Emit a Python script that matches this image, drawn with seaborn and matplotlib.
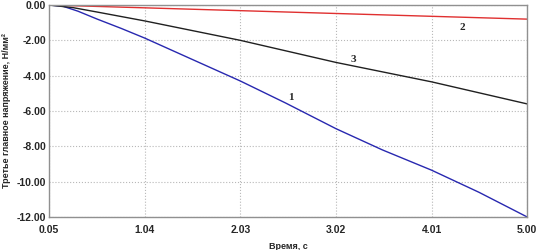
import numpy as np
import pandas as pd
import matplotlib
matplotlib.use("Agg")
import matplotlib.pyplot as plt
from matplotlib.ticker import FixedLocator
import seaborn as sns

# values
time_1 = [0.05, 0.2, 0.35, 0.55, 0.8, 1.04, 1.5, 2.03, 2.5, 3.02, 3.5, 4.01, 4.5, 5.0]
stress_1 = [0.0, -0.08, -0.35, -0.8, -1.33, -1.87, -3.0, -4.3, -5.55, -7.0, -8.2, -9.35, -10.6, -12.0]

time_2 = [0.05, 1.04, 2.03, 3.02, 4.01, 5.0]
stress_2 = [0.0, -0.16, -0.32, -0.48, -0.64, -0.8]

time_3 = [0.05, 0.3, 0.55, 1.04, 2.03, 3.02, 4.01, 5.0]
stress_3 = [0.0, -0.15, -0.4, -0.9, -2.0, -3.25, -4.35, -5.6]

x_ticks = [0.05, 1.04, 2.03, 3.02, 4.01, 5.00]
y_ticks = [0.0, -2.0, -4.0, -6.0, -8.0, -10.0, -12.0]

df = pd.concat([
    pd.DataFrame({"t": time_1, "s": stress_1, "curve": "1"}),
    pd.DataFrame({"t": time_2, "s": stress_2, "curve": "2"}),
    pd.DataFrame({"t": time_3, "s": stress_3, "curve": "3"}),
])

sns.set_style("white")
plt.rcParams['font.family'] = ['Liberation Sans', 'DejaVu Sans']
narrow = ['Liberation Sans Narrow', 'Liberation Sans', 'DejaVu Sans']

fig = plt.figure(figsize=(5.38, 2.5), dpi=100)
ax = fig.add_axes([0.091, 0.132, 0.889, 0.848])

sns.lineplot(data=df, x="t", y="s", hue="curve", palette={"1": "#2828b0", "2": "#e03030", "3": "#202020"},
             linewidth=1.0, legend=False, ax=ax, sort=False)

ax.set_xlim(0.05, 5.0)
ax.set_ylim(-12.0, 0.0)
ax.set_xticks(x_ticks)
ax.set_xticklabels([f"{v:.2f}" for v in x_ticks], fontsize=7.5, fontweight="bold")
ax.set_yticks(y_ticks)
ax.set_yticklabels([f"{v:.2f}" for v in y_ticks], fontsize=7.5, fontweight="bold")
ax.xaxis.set_minor_locator(FixedLocator([(a + b) / 2 for a, b in zip(x_ticks[:-1], x_ticks[1:])]))
ax.yaxis.set_minor_locator(FixedLocator([v - 1 for v in y_ticks[:-1]]))
ax.tick_params(which="major", direction="in", length=3, color="#808080")
ax.tick_params(which="minor", direction="in", length=2, color="#808080")
ax.tick_params(axis="x", which="major", pad=6)
ax.tick_params(axis="y", which="major", pad=2)

ax.grid(True, which="major", linestyle=":", color="#b8b8b8", linewidth=0.8)
for sp in ax.spines.values():
    sp.set_color("#909090")
    sp.set_linewidth(1.0)

ax.set_xlabel("Время, с", fontsize=6.5, fontweight="bold", family=narrow, labelpad=5)
ax.set_ylabel("Третье главное напряжение, Н/мм²", fontsize=6.5, fontweight="bold", family=narrow, labelpad=4)

# curve numbers
ax.text(2.55, -5.26, "1", fontsize=8, fontweight="bold", family="Liberation Serif", ha="center", va="center")
ax.text(4.33, -1.25, "2", fontsize=8, fontweight="bold", family="Liberation Serif", ha="center", va="center")
ax.text(3.2, -3.11, "3", fontsize=8, fontweight="bold", family="Liberation Serif", ha="center", va="center")

fig.savefig("out.png", dpi=100)
